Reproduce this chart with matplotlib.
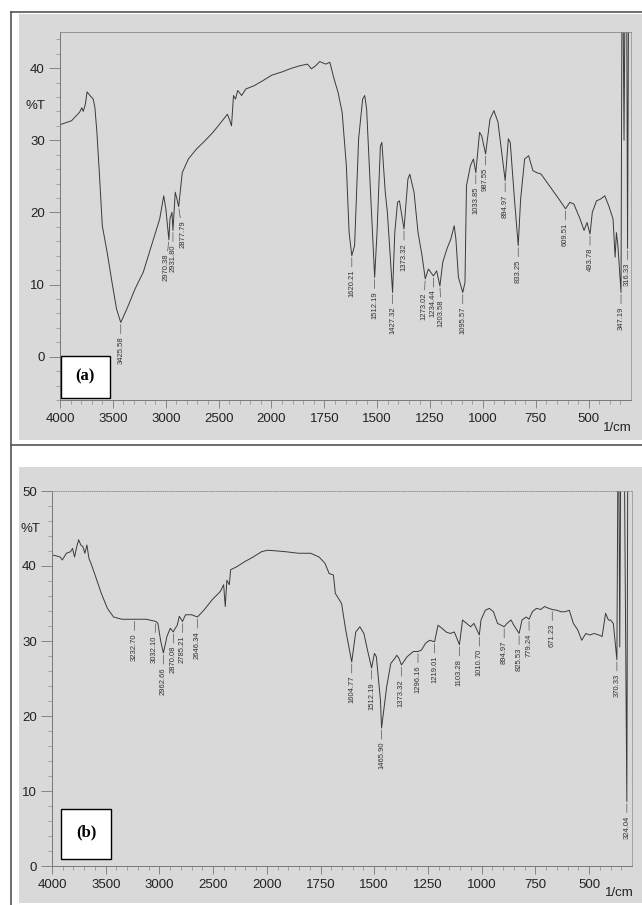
import numpy as np
import matplotlib
matplotlib.use("Agg")
import matplotlib.pyplot as plt
from matplotlib.patches import Rectangle
from matplotlib.ticker import FixedLocator, FuncFormatter

matplotlib.rc("font", family="Liberation Sans")

# spectrum (a)
wn_a = [4000, 3891, 3814, 3794, 3780, 3760, 3744, 3717, 3686, 3670, 3651, 3628, 3600, 3554,
        3503, 3465, 3425.58, 3368, 3290, 3213, 3135, 3057, 3019, 2999, 2970.38, 2960, 2941,
        2931.80, 2910, 2894, 2877.79, 2844, 2786, 2708, 2631, 2553, 2476, 2417, 2398, 2378,
        2359, 2340, 2320, 2282, 2243, 2165, 2088, 2000, 1947, 1908, 1869, 1830, 1811, 1792,
        1772, 1743, 1724, 1704, 1685, 1666, 1646, 1633, 1620.21, 1607, 1588, 1569, 1559, 1550,
        1530, 1512.19, 1501, 1485, 1478, 1462, 1452, 1427.32, 1417, 1404, 1395, 1373.32, 1355,
        1346, 1326, 1307, 1288, 1273.02, 1258, 1234.44, 1219, 1203.58, 1190, 1171, 1152, 1136,
        1128, 1116, 1095.57, 1085, 1078, 1059, 1045, 1033.85, 1016, 1006, 987.55, 967, 948,
        929, 894.97, 880, 871, 851, 833.25, 822, 803, 784, 764, 745, 725, 686, 647, 609.51,
        589, 570, 541, 522, 508, 493.78, 483, 463, 444, 424, 405, 385, 375, 369, 362, 347.19,
        343, 337, 333, 329, 320, 316.33, 312, 300]
t_a = [32.15, 32.7, 33.9, 34.5, 34.0, 35.0, 36.7, 36.2, 35.7, 34.55, 31.1, 25.5, 18.15, 14.46,
       9.84, 6.6, 4.75, 6.6, 9.4, 11.7, 15.4, 19.1, 22.3, 20.5, 16.2, 19.1, 20.0,
       17.5, 22.8, 21.85, 20.8, 25.5, 27.4, 28.8, 29.9, 31.1, 32.5, 33.6, 32.9, 32.0,
       36.2, 35.7, 36.9, 36.2, 37.1, 37.55, 38.2, 39.0, 39.5, 39.95, 40.3, 40.55, 39.9, 40.3,
       40.9, 40.55, 40.8, 38.5, 36.6, 33.9, 26.5, 17.2, 14.0, 15.4, 30.2, 35.7, 36.2, 34.3,
       21.8, 11.0, 17.2, 29.2, 29.7, 22.8, 20.0, 8.9, 17.2, 21.4, 21.6, 17.7, 24.6,
       25.3, 22.8, 17.2, 14.0, 10.8, 12.15, 11.2, 11.9, 9.8, 13.1, 14.9, 16.3, 18.15,
       16.3, 11.0, 8.9, 10.3, 23.7, 26.5, 27.4, 25.5, 31.1, 30.6, 28.1, 32.9, 34.1,
       32.5, 24.4, 30.2, 29.7, 21.8, 15.4, 21.8, 27.4, 27.85, 25.8, 25.5, 25.3, 23.7, 22.1, 20.5,
       21.4, 21.15, 19.1, 17.5, 18.6, 17.0, 20.0, 21.6, 21.85, 22.3, 20.9, 19.1, 13.8, 17.2, 15.4, 8.9,
       47, 47, 30, 47, 47, 15.0, 47, 47]

peaks_a = [3425.58, 2970.38, 2931.80, 2877.79, 1620.21, 1512.19, 1427.32, 1373.32, 1273.02,
           1234.44, 1203.58, 1095.57, 1033.85, 987.55, 894.97, 833.25, 609.51, 493.78,
           347.19, 316.33]
peaks_a_t = [4.75, 16.2, 17.5, 20.8, 14.0, 11.0, 8.9, 17.7, 10.8,
             11.2, 9.8, 8.9, 25.5, 28.1, 24.4, 15.4, 20.5, 17.0,
             8.9, 15.0]

# spectrum (b)
wn_b = [4000, 3924, 3904, 3866, 3828, 3809, 3790, 3771, 3752, 3732, 3713, 3694, 3675, 3656,
        3637, 3599, 3541, 3484, 3427, 3350, 3232.70, 3121, 3032.10, 3014, 2987, 2962.66, 2930,
        2899, 2870.08, 2861, 2834, 2815, 2785.21, 2757, 2700, 2646.34, 2586, 2509, 2433, 2402,
        2387, 2372, 2349, 2337, 2280, 2203, 2127, 2050, 1997, 1949, 1911, 1853, 1796, 1757,
        1729, 1710, 1690, 1681, 1652, 1633, 1604.77, 1586, 1567, 1548, 1528, 1512.19, 1499,
        1490, 1471, 1465.90, 1442, 1423, 1404, 1395, 1385, 1373.32, 1347, 1328, 1318, 1296.16,
        1280, 1261, 1242, 1219.01, 1203, 1185, 1165, 1146, 1127, 1103.28, 1089, 1070, 1051,
        1036, 1010.70, 1003, 983, 964, 945, 926, 894.97, 882, 863, 850, 825.53, 812, 793,
        779.24, 764, 745, 725, 707, 687, 671.23, 650, 630, 611, 592, 573, 553, 534, 515, 496,
        477, 454, 439, 423, 410, 400, 387, 370.33, 366, 361, 357, 353, 335, 324.04, 320, 300]
t_b = [41.5, 41.2, 40.8, 41.7, 41.9, 42.35, 41.2, 42.5, 43.5, 42.8, 42.6, 41.7, 42.8, 41.0,
       40.35, 38.8, 36.35, 34.35, 33.2, 32.9, 32.9, 32.9, 32.6, 32.35, 29.9, 28.4, 30.6,
       31.7, 31.2, 31.5, 32.1, 33.3, 32.6, 33.5, 33.5, 33.2, 34.1, 35.5, 36.6, 37.5,
       34.6, 38.1, 37.5, 39.5, 39.9, 40.6, 41.2, 41.9, 42.1, 42.0, 41.9, 41.7, 41.7, 41.2,
       40.35, 39.0, 38.8, 36.35, 35.0, 31.5, 27.2, 31.2, 31.9, 31.0, 28.35, 26.4, 28.35,
       27.9, 22.1, 18.4, 23.9, 27.0, 27.7, 28.1, 27.7, 26.8, 27.9, 28.35, 28.6, 28.6,
       28.8, 29.7, 30.1, 29.9, 32.1, 31.7, 31.2, 31.0, 31.2, 29.5, 32.8, 32.35, 31.9,
       32.35, 30.8, 32.8, 34.1, 34.35, 33.9, 32.35, 31.9, 32.35, 32.8, 32.1, 31.0, 32.8, 33.2,
       32.9, 33.9, 34.35, 34.2, 34.6, 34.35, 34.2, 34.1, 33.9, 33.9, 34.1, 32.35, 31.5, 30.1, 31.0, 30.8,
       31.0, 30.8, 30.6, 33.7, 32.8, 32.8, 32.35, 27.5, 52, 52, 29.2, 52, 52, 8.6, 52, 52]

peaks_b = [3232.70, 3032.10, 2962.66, 2870.08, 2785.21, 2646.34, 1604.77, 1512.19, 1465.90,
           1373.32, 1296.16, 1219.01, 1103.28, 1010.70, 894.97, 825.53, 779.24, 671.23,
           370.33, 324.04]
peaks_b_t = [32.9, 32.6, 28.4, 31.2, 32.6, 33.2, 27.2, 26.4, 18.4,
             26.8, 28.6, 29.9, 29.5, 30.8, 31.9, 31.0, 32.9, 34.2,
             27.5, 8.6]

# small sideways nudges (pixels) for crowded labels
nudge = {2970.38: -3, 2877.79: 4, 1273.02: -1.5, 1203.58: 1.5, 3032.10: -2}

W, H = 642, 905


def px(x, y):
    return x / W, 1 - y / H


def fwd(w):
    w = np.asarray(w, dtype=float)
    return np.where(w >= 2000, 8 + (w - 2000) / 500, w / 250)


def inv(u):
    u = np.asarray(u, dtype=float)
    return np.where(u >= 8, 2000 + (u - 8) * 500, u * 250)


def draw_panel(box, wn, t, peaks, peaks_t, ylim, ymajor, top_style):
    l, t_, r, b = box
    x0, y0 = px(l, b)
    x1, y1 = px(r, t_)
    ax = fig.add_axes([x0, y0, x1 - x0, y1 - y0])
    ax.set_facecolor("none")
    ax.set_xscale("function", functions=(fwd, inv))
    ax.plot(wn, t, color="#3a3a3a", lw=0.7)
    ax.set_xlim(4000, 300)
    ax.set_ylim(*ylim)

    ax.xaxis.set_major_locator(FixedLocator([4000, 3500, 3000, 2500, 2000, 1750, 1500,
                                             1250, 1000, 750, 500]))
    ax.xaxis.set_minor_locator(FixedLocator(list(range(4000, 2000, -100)) + list(range(2000, 300, -50))))
    ax.xaxis.set_major_formatter(FuncFormatter(lambda v, p: "%d" % round(v)))
    ax.yaxis.set_major_locator(FixedLocator(ymajor))
    ax.yaxis.set_minor_locator(FixedLocator(np.arange(ylim[0], ylim[1] + 0.1, 2)))
    ax.tick_params(which="major", direction="out", length=6, width=0.6, color="#777",
                   labelsize=9.5, labelcolor="#222", pad=3)
    ax.tick_params(which="minor", direction="out", length=3, width=0.5, color="#888")
    ax.tick_params(axis="y", which="major", length=8)

    for s in ["left", "bottom"]:
        ax.spines[s].set_color("#777")
        ax.spines[s].set_linewidth(0.7)
    ax.spines["top"].set_color("#888")
    ax.spines["top"].set_linewidth(0.6)
    ax.spines["top"].set_linestyle(top_style)
    ax.spines["right"].set_color("#999")
    ax.spines["right"].set_linewidth(0.6)

    for w, v in zip(peaks, peaks_t):
        dx = nudge.get(w, 0) * 0.72
        ax.annotate("%.2f" % w, xy=(w, v), xytext=(dx, -10), textcoords="offset points",
                    rotation=90, ha="center", va="top", fontsize=5.5, color="#333",
                    arrowprops=dict(arrowstyle="-", lw=0.5, color="#555",
                                    shrinkA=0, shrinkB=1.5))
    return ax


fig = plt.figure(figsize=(W / 100, H / 100), dpi=100)
fig.patch.set_facecolor("white")

# gray panels and frame lines
for (l, t_, r, b) in [(19, 14, 642, 440), (19, 467, 642, 903)]:
    x0, y0 = px(l, b)
    x1, y1 = px(r, t_)
    fig.add_artist(Rectangle((x0, y0), x1 - x0, y1 - y0, transform=fig.transFigure,
                             facecolor="#d9d9d9", edgecolor="none", zorder=0))
fig.add_artist(plt.Line2D([11 / W, 11 / W], [1 - 12 / H, 0], transform=fig.transFigure,
                          color="#555", lw=1.2))
fig.add_artist(plt.Line2D([11 / W, 1], [1 - 12 / H, 1 - 12 / H], transform=fig.transFigure,
                          color="#555", lw=1.2))
fig.add_artist(plt.Line2D([11 / W, 1], [1 - 445 / H, 1 - 445 / H], transform=fig.transFigure,
                          color="#555", lw=1.2))

ax1 = draw_panel((60, 32, 631, 400), wn_a, t_a, peaks_a, peaks_a_t, (-6, 45),
                 [0, 10, 20, 30, 40], "-")
ax2 = draw_panel((52, 491, 632, 866), wn_b, t_b, peaks_b, peaks_b_t, (0, 50),
                 [0, 10, 20, 30, 40, 50], ":")

fig.text(*px(35, 106), "%T", ha="center", va="center", fontsize=9.5, color="#222")
fig.text(*px(30, 529), "%T", ha="center", va="center", fontsize=9.5, color="#222")
fig.text(*px(617, 428), "1/cm", ha="center", va="center", fontsize=9.5, color="#222")
fig.text(*px(619, 893), "1/cm", ha="center", va="center", fontsize=9.5, color="#222")

for (l, t_, r, b), tag, (tx, ty) in [((61, 356, 110, 398), "(a)", (85, 376)),
                                      ((61, 809, 111, 859), "(b)", (86, 832))]:
    x0, y0 = px(l, b)
    x1, y1 = px(r, t_)
    fig.add_artist(Rectangle((x0, y0), x1 - x0, y1 - y0, transform=fig.transFigure,
                             facecolor="white", edgecolor="black", lw=1.0, zorder=5))
    fig.text(*px(tx, ty), tag, ha="center", va="center", fontsize=12, fontweight="bold",
             family="Liberation Serif", zorder=6)

fig.savefig("out.png", dpi=100)
